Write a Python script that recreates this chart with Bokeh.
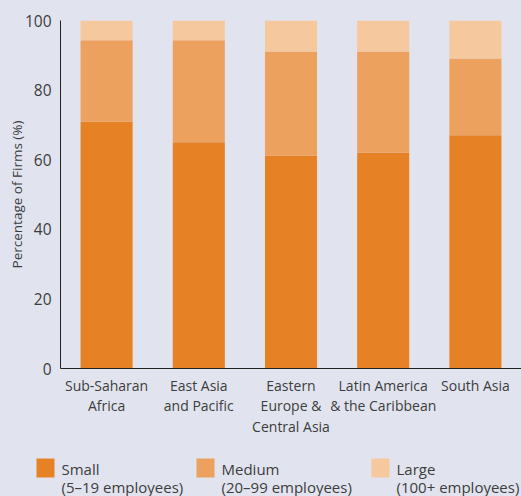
from bokeh.plotting import figure
from bokeh.layouts import column, row
from bokeh.models import ColumnDataSource, Range1d, FactorRange, FixedTicker
from bokeh.core.properties import value
from bokeh.embed import file_html
from bokeh.resources import INLINE

regions = ["Sub-Saharan\nAfrica", "East Asia\nand Pacific", "Eastern\nEurope &\nCentral Asia",
           "Latin America\n& the Caribbean", "South Asia"]
small = [71, 65, 61.2, 62.1, 67]
medium = [23.3, 29.3, 29.9, 29.0, 22.1]
large = [5.7, 5.7, 8.9, 8.9, 10.9]
series = ["small", "medium", "large"]
legend_names = ["Small", "Medium", "Large"]
legend_sizes = ["(5–19 employees)", "(20–99 employees)", "(100+ employees)"]
colors = ["#E68125", "#ECA15F", "#F5C89E"]
y_ticks = [0, 20, 40, 60, 80, 100]

BG = "#E1E4EE"
TXT = "#3d3d3d"
FONT = "Open Sans"

src = ColumnDataSource(dict(region=regions, small=small, medium=medium, large=large))

p = figure(width=521, height=440, x_range=FactorRange(*regions, range_padding=0),
           y_range=Range1d(0, 100), output_backend="svg", toolbar_location=None,
           min_border_left=60, min_border_right=0, min_border_top=20, min_border_bottom=72)
p.background_fill_color = BG
p.border_fill_color = BG
p.outline_line_color = None
p.grid.visible = False

rs = p.vbar_stack(series, x="region", width=0.565, color=colors, source=src, line_color=None)

p.yaxis.ticker = FixedTicker(ticks=y_ticks)
p.yaxis.major_tick_line_color = None
p.yaxis.minor_tick_line_color = None
p.yaxis.axis_line_color = "#222222"
p.yaxis.major_label_text_font = FONT
p.yaxis.major_label_text_font_size = "15.5px"
p.yaxis.major_label_text_color = TXT
p.yaxis.major_label_standoff = 3
p.yaxis.axis_label = "Percentage of Firms (%)"
p.yaxis.axis_label_text_font = FONT
p.yaxis.axis_label_text_font_size = "13.5px"
p.yaxis.axis_label_text_font_style = "normal"
p.yaxis.axis_label_text_color = TXT
p.yaxis.axis_label_standoff = -4

p.xaxis.major_tick_line_color = None
p.xaxis.minor_tick_line_color = None
p.xaxis.axis_line_color = "#222222"
p.xaxis.major_label_text_font = FONT
p.xaxis.major_label_text_font_size = "14px"
p.xaxis.major_label_text_color = TXT
p.xaxis.major_label_standoff = 1
p.xaxis.major_label_text_line_height = 1.08

# legend panel below (pixel-like coordinates, y measured from the top)
lg = figure(width=521, height=56, x_range=Range1d(0, 521), y_range=Range1d(56, 0),
            x_axis_type=None, y_axis_type=None,
            output_backend="svg", toolbar_location=None,
            min_border_left=0, min_border_right=0, min_border_top=0, min_border_bottom=0)
lg.grid.visible = False
lg.background_fill_color = BG
lg.border_fill_color = BG
lg.outline_line_color = None
sw_x = [36, 196, 371]
leg = ColumnDataSource(dict(x=[v + 9 for v in sw_x], tx=[v + 25 for v in sw_x],
                            color=colors, name=legend_names, size=legend_sizes))
lg.rect(x="x", y=27.5, width=18, height=19, color="color", line_color=None, source=leg)
lg.text(x="tx", y=28.5, text="name", source=leg, text_font=value(FONT), text_font_size="15px",
        text_color=TXT, text_baseline="middle")
lg.text(x="tx", y=46.5, text="size", source=leg, text_font=value(FONT), text_font_size="15px",
        text_color=TXT, text_baseline="middle")

layout = column(p, row(lg), spacing=0)
html = file_html(layout, INLINE)
html = html.replace("</head>", "<style>html, body { background: %s; margin: 0; }</style>\n</head>" % BG, 1)
open("out.html", "w").write(html)
